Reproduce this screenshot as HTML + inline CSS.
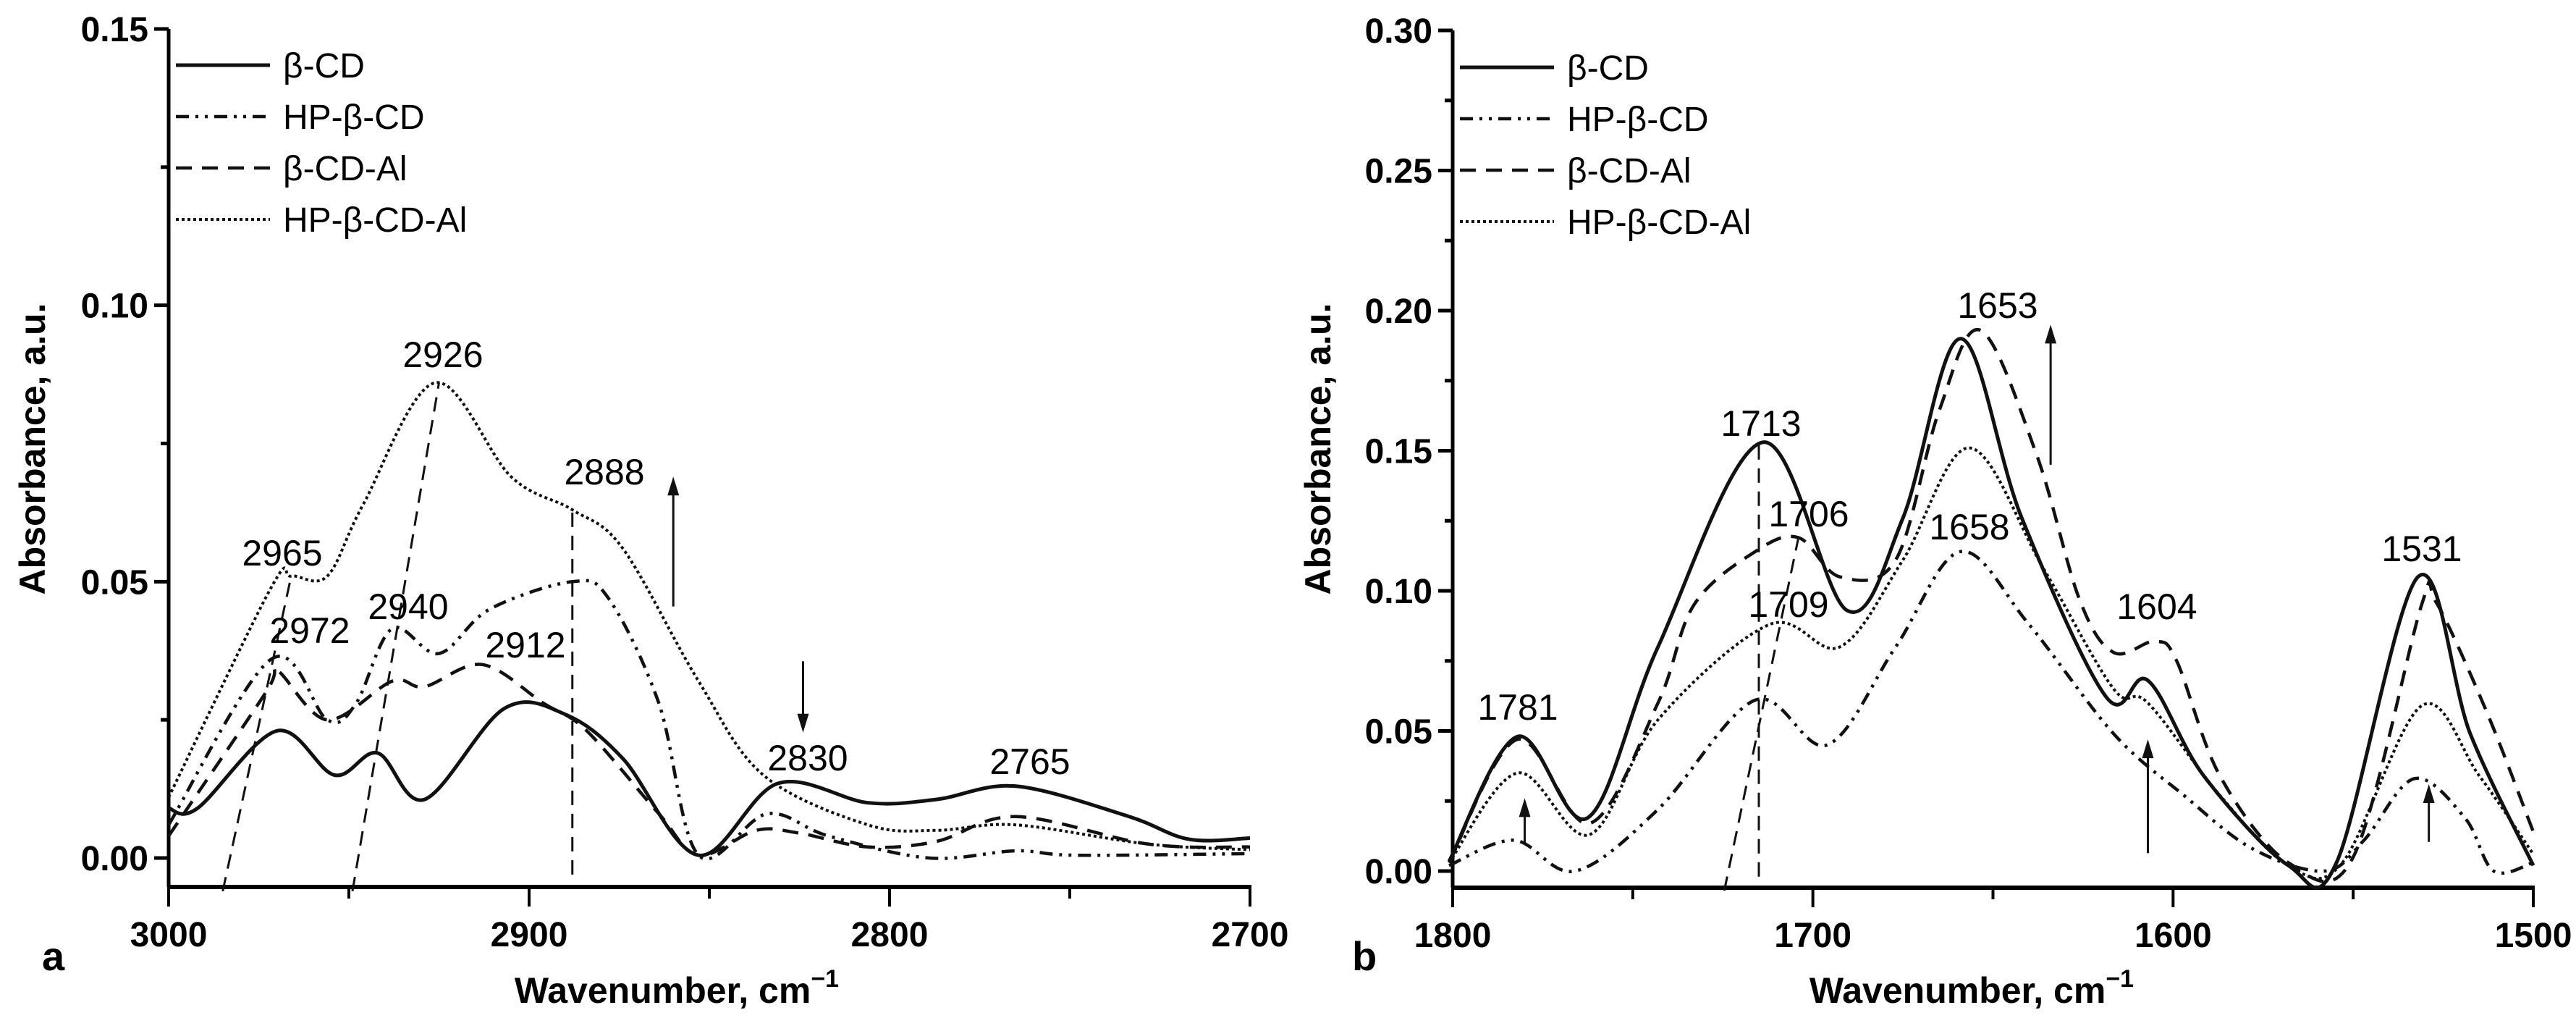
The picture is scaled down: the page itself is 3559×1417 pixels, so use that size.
<!DOCTYPE html>
<html><head><meta charset="utf-8"><style>
html,body{margin:0;padding:0;background:#fff;}
svg{display:block;font-family:"Liberation Sans",Arial,sans-serif;}
</style></head><body>
<svg id="chart" width="3559" height="1417" viewBox="0 0 3559 1417" xmlns="http://www.w3.org/2000/svg"></svg>
<script>
// ---- Panel a data (wavenumber, absorbance) ----
const aBcdW  = [3000,2992,2970,2954,2942,2929,2907,2890,2874,2853,2831,2806,2787,2765,2734,2717,2700];
const aBcdA  = [0.009,0.009,0.023,0.015,0.019,0.0106,0.027,0.026,0.018,0.0005,0.0135,0.010,0.0106,0.013,0.0076,0.0034,0.0036];
const aHpW   = [3000,2971.5,2956,2948,2938,2925,2911,2888,2878,2864,2853,2834,2817,2789,2765,2748,2700];
const aHpA   = [0.006,0.036,0.025,0.028,0.0415,0.037,0.045,0.050,0.047,0.028,0.0005,0.008,0.004,0.0,0.0013,0.0005,0.0008];
const aAlW   = [3000,2973,2970,2956,2938,2929,2913,2896,2884,2864,2853,2837,2825,2806,2787,2765,2728,2700];
const aAlA   = [0.004,0.030,0.034,0.025,0.032,0.031,0.035,0.028,0.023,0.008,0.0005,0.005,0.0045,0.002,0.003,0.0075,0.0025,0.002];
const aHpAlW = [3000,2971.5,2966,2956,2946,2926,2905,2888,2874,2853,2835,2806,2787,2765,2728,2700];
const aHpAlA = [0.011,0.049,0.051,0.051,0.064,0.086,0.069,0.063,0.056,0.032,0.015,0.006,0.005,0.006,0.0025,0.0015];
const aYTicks = ["0.00","0.05","0.10","0.15"];
const aXTicks = ["3000","2900","2800","2700"];
// ---- Panel b data ----
const bBcdW  = [1801,1782,1762.5,1743,1714,1690.5,1675,1659,1642,1618.5,1607,1591.5,1568,1554.5,1532,1517.5,1500];
const bBcdA  = [0.0034,0.048,0.019,0.080,0.153,0.093,0.126,0.190,0.126,0.062,0.068,0.034,0.002,0.0034,0.105,0.049,0.002];
const bHpW   = [1801,1783,1766,1743,1716,1696,1677,1659,1640,1616.5,1597,1578,1558,1547,1533,1519,1511,1500];
const bHpA   = [0.002,0.011,0.0,0.022,0.061,0.045,0.080,0.114,0.088,0.049,0.027,0.008,0.0,0.011,0.033,0.019,0.0,0.003];
const bAlW   = [1801,1782,1762,1743,1733,1716,1704,1692.5,1677,1665,1653.5,1638,1626,1616.5,1605,1599,1587,1568,1550,1531,1527,1513,1500];
const bAlA   = [0.003,0.047,0.017,0.060,0.095,0.114,0.119,0.105,0.111,0.164,0.193,0.149,0.097,0.078,0.082,0.075,0.034,0.003,0.005,0.095,0.096,0.057,0.014];
const bHpAlW = [1801,1782,1762,1743,1712,1692.5,1675,1656.5,1636,1616.5,1607,1587,1568,1553,1531,1515,1500];
const bHpAlA = [0.003,0.035,0.013,0.054,0.088,0.080,0.111,0.151,0.108,0.065,0.060,0.027,0.002,0.003,0.059,0.034,0.006];
const bYTicks = ["0.00","0.05","0.10","0.15","0.20","0.25","0.30"];
const bXTicks = ["1800","1700","1600","1500"];

const NS="http://www.w3.org/2000/svg";
const svg=document.getElementById('chart');
function el(tag,attrs,parent){const e=document.createElementNS(NS,tag);for(const k in attrs)e.setAttribute(k,attrs[k]);(parent||svg).appendChild(e);return e;}
function txt(s,attrs,parent){const e=el('text',attrs,parent);e.textContent=s;return e;}

const styles={
  solid:{dash:"",w:5},
  dashdot:{dash:"18 9 4 9 4 9",w:4.5},
  dashed:{dash:"22 14",w:4.5},
  dotted:{dash:"4 4",w:4}
};

function spline(pts){
  let d="M"+pts[0][0].toFixed(1)+","+pts[0][1].toFixed(1);
  for(let i=0;i<pts.length-1;i++){
    const p0=pts[Math.max(0,i-1)],p1=pts[i],p2=pts[i+1],p3=pts[Math.min(pts.length-1,i+2)];
    const c1=[p1[0]+(p2[0]-p0[0])/6,p1[1]+(p2[1]-p0[1])/6];
    const c2=[p2[0]-(p3[0]-p1[0])/6,p2[1]-(p3[1]-p1[1])/6];
    d+=" C"+c1[0].toFixed(1)+","+c1[1].toFixed(1)+" "+c2[0].toFixed(1)+","+c2[1].toFixed(1)+" "+p2[0].toFixed(1)+","+p2[1].toFixed(1);
  }
  return d;
}

function panel(cfg){
  const g=el('g',{});
  
  
  const X=w=>cfg.x0+(cfg.w0-w)/(cfg.w0-cfg.w1)*(cfg.x1-cfg.x0);
  const Y=a=>cfg.y0-a/cfg.yMax*(cfg.y0-cfg.yTop);
  const yAx=el('line',{x1:cfg.x0,y1:cfg.yTop,x2:cfg.x0,y2:cfg.axisY,stroke:"#000","stroke-width":5},g);
  
  const xAx=el('line',{x1:cfg.x0-2,y1:cfg.axisY,x2:cfg.x1+2,y2:cfg.axisY,stroke:"#000","stroke-width":6},g);
  
  cfg.yTicks.forEach((lab,i)=>{
    const v=parseFloat(lab);const y=Y(v);
    el('line',{x1:cfg.x0-20,y1:y,x2:cfg.x0,y2:y,stroke:"#000","stroke-width":5},g);
    if(i<cfg.yTicks.length-1){const ym=Y(v+cfg.yStep/2);el('line',{x1:cfg.x0-11,y1:ym,x2:cfg.x0,y2:ym,stroke:"#000","stroke-width":5},g);}
    const t=txt(lab,{x:cfg.x0-28,y:y+17,"text-anchor":"end","font-size":48,"font-weight":"bold"},g);
    
  });
  cfg.xTicks.forEach((lab,i)=>{
    const v=parseFloat(lab);const x=X(v);
    el('line',{x1:x,y1:cfg.axisY,x2:x,y2:cfg.axisY+27,stroke:"#000","stroke-width":4},g);
    if(i<cfg.xTicks.length-1){const xm=X(v-50);el('line',{x1:xm,y1:cfg.axisY,x2:xm,y2:cfg.axisY+16,stroke:"#000","stroke-width":4},g);}
    const t=txt(lab,{x:x,y:cfg.axisY+82,"text-anchor":"middle","font-size":48,"font-weight":"bold"},g);
    
  });
  const xt=txt("Wavenumber, cm",{x:cfg.xTitleX,y:1385,"text-anchor":"middle","font-size":50,"font-weight":"bold"},g);
  
  const ts=el('tspan',{dy:-22,"font-size":34},xt);ts.textContent="\u22121";
  const yt=txt("Absorbance, a.u.",{x:0,y:0,transform:`translate(${cfg.yTitleX},620) rotate(-90)`,"text-anchor":"middle","font-size":50,"font-weight":"bold"},g);
  
  const pl=txt(cfg.letter,{x:cfg.letterX,y:1340,"font-size":56,"font-weight":"bold"},g);
  
  cfg.series.forEach(s=>{
    const pts=s.w.map((w,i)=>[X(w),Y(s.a[i])]);
    const st=styles[s.style];
    const p=el('path',{d:spline(pts),fill:"none",stroke:"#111","stroke-width":st.w,"stroke-dasharray":st.dash,"stroke-linejoin":"round"},g);
    
  });
  cfg.guides.forEach(q=>{
    const l=el('line',{x1:X(q[0]),y1:Y(q[1]),x2:X(q[2]),y2:Y(q[3]),stroke:"#111","stroke-width":3,"stroke-dasharray":"20 12"},g);
    
  });
  cfg.arrows.forEach(q=>{
    const x=X(q[0]),ya=Y(q[1]),yb=Y(q[3]);const dir=yb<ya?-1:1;
    const l=el('line',{x1:x,y1:ya,x2:x,y2:yb-dir*20,stroke:"#111","stroke-width":3},g);
    
    const h=el('polygon',{points:`${x},${yb} ${x-8},${yb-dir*26} ${x+8},${yb-dir*26}`,fill:"#111"},g);
    
  });
  cfg.peaks.forEach(p=>{
    const t=txt(p[0],{x:p[1],y:p[2],"text-anchor":"middle","font-size":50},g);
    
  });
  const names=["\u03b2-CD","HP-\u03b2-CD","\u03b2-CD-Al","HP-\u03b2-CD-Al"];
  const lst=["solid","dashdot","dashed","dotted"];
  const lg=el('g',{},g);
  
  names.forEach((n,i)=>{
    const y=cfg.legY+i*71;const st=styles[lst[i]];
    const e=el('g',{},lg);
    
    el('line',{x1:cfg.legX,y1:y,x2:cfg.legX+130,y2:y,stroke:"#111","stroke-width":st.w,"stroke-dasharray":st.dash},e);
    txt(n,{x:cfg.legX+148,y:y+17,"font-size":48},e);
  });
}

panel({name:"panel-a",letter:"a",letterX:58,x0:233,x1:1727,w0:3000,w1:2700,y0:1185,yTop:40,yMax:0.15,yStep:0.05,axisY:1225,
  yTicks:aYTicks,xTicks:aXTicks,xTitleX:935,yTitleX:62,legX:243,legY:90,
  series:[{id:"series-b-cd",w:aBcdW,a:aBcdA,style:"solid"},{id:"series-hp-b-cd",w:aHpW,a:aHpA,style:"dashdot"},
          {id:"series-b-cd-al",w:aAlW,a:aAlA,style:"dashed"},{id:"series-hp-b-cd-al",w:aHpAlW,a:aHpAlA,style:"dotted"}],
  guides:[[2985,-0.006,2966,0.051],[2949,-0.006,2925,0.086],[2888,-0.003,2888,0.063]],
  arrows:[[2860,0.0455,2860,0.069],[2824,0.0356,2824,0.0227]],
  peaks:[["2926",612,507],["2888",835,669],["2965",390,781],["2940",564,855],["2972",428,888],["2912",726,908],["2830",1116,1064],["2765",1423,1069]]
});
panel({name:"panel-b",letter:"b",letterX:1868,x0:2007,x1:3500,w0:1800,w1:1500,y0:1203,yTop:42,yMax:0.30,yStep:0.05,axisY:1226,
  yTicks:bYTicks,xTicks:bXTicks,xTitleX:2724,yTitleX:1838,legX:2017,legY:93,
  series:[{id:"series-b-cd",w:bBcdW,a:bBcdA,style:"solid"},{id:"series-hp-b-cd",w:bHpW,a:bHpA,style:"dashdot"},
          {id:"series-b-cd-al",w:bAlW,a:bAlA,style:"dashed"},{id:"series-hp-b-cd-al",w:bHpAlW,a:bHpAlA,style:"dotted"}],
  guides:[[1715,-0.002,1715,0.153],[1724.6,-0.007,1704,0.119]],
  arrows:[[1634,0.145,1634,0.195],[1780,0.0093,1780,0.026],[1607,0.0064,1607,0.047],[1529,0.0104,1529,0.031]],
  peaks:[["1653",2760,439],["1713",2433,602],["1706",2499,727],["1658",2721,745],["1709",2471,852],["1604",2980,855],["1531",3346,775],["1781",2097,994]]
});
</script>
</body></html>
